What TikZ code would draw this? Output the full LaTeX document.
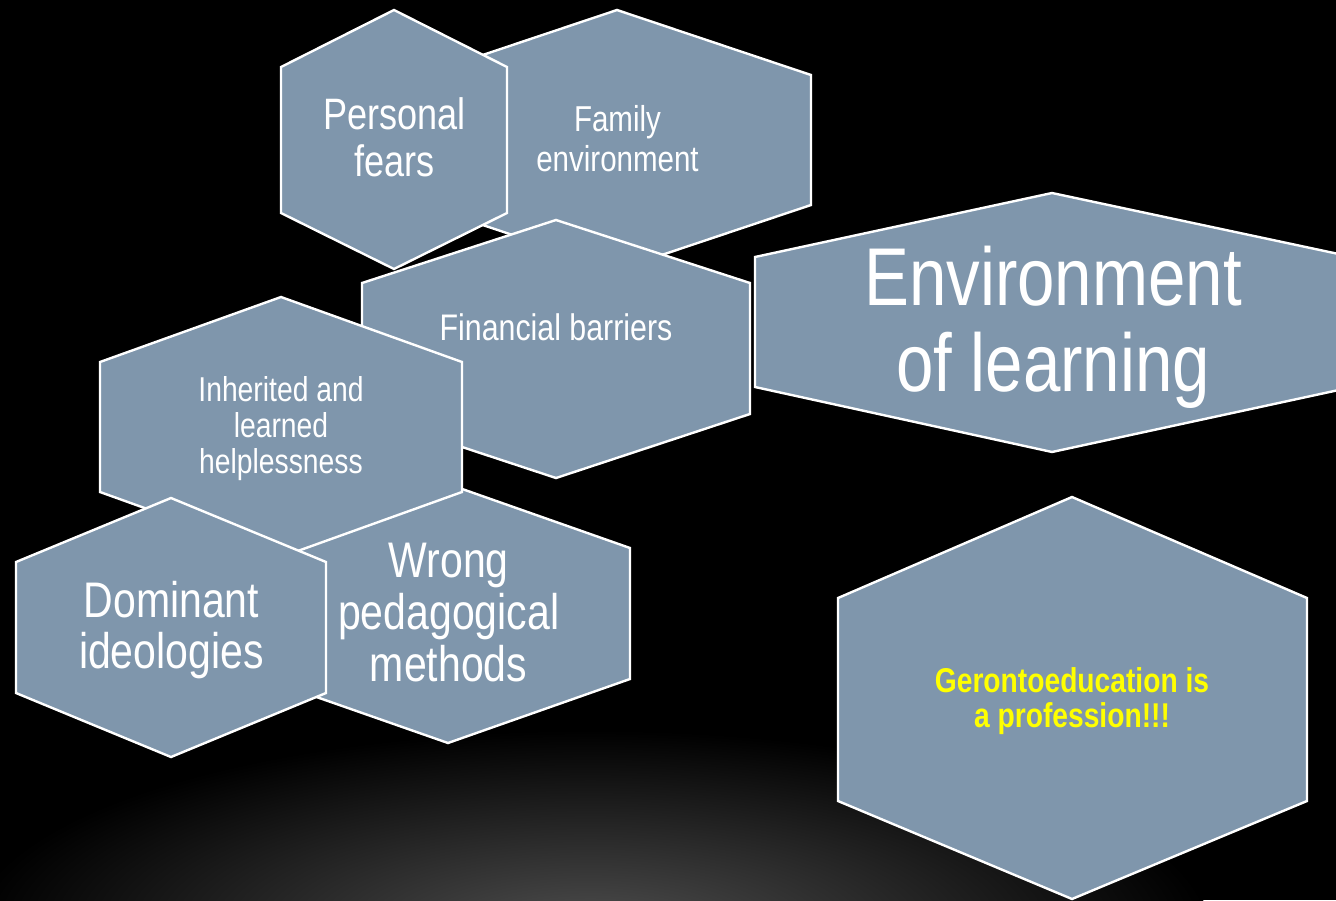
\documentclass[tikz,border=0pt]{standalone}
\usepackage{fontspec}
\setmainfont{Liberation Sans}[FakeStretch=0.82]
\definecolor{hexfill}{RGB}{127,150,172}
\definecolor{glow}{RGB}{78,78,78}
\definecolor{gyellow}{RGB}{255,255,0}
\begin{document}
\begin{tikzpicture}[x=1pt,y=-1pt,
  hexa/.style={fill=hexfill,draw=white,line width=2.4pt,line join=miter},
  lbl/.style={text=white,align=center,anchor=base,inner sep=0pt}]
\fill[black] (0,0) rectangle (1336,900);
\begin{scope}
\clip (0,0) rectangle (1336,900);
\shade[inner color=glow,outer color=black] (590,930) ellipse [x radius=620pt, y radius=200pt];
\end{scope}
\useasboundingbox (0,0) rectangle (1336,900);
% Family environment
\filldraw[hexa] (617,10) -- (811,75) -- (811,205) -- (617,270) -- (423,205) -- (423,75) -- cycle;
\node[lbl,font=\fontsize{36}{40}\selectfont] (fam) at (617.5,171) {Family\\environment};
% Personal fears
\filldraw[hexa] (394,10) -- (507,67) -- (507,213) -- (394,269) -- (281,213) -- (281,67) -- cycle;
\node[lbl,font=\fontsize{44}{47}\selectfont] (pf) at (394.5,176) {Personal\\fears};
% Financial barriers
\filldraw[hexa] (556,220) -- (750,283) -- (750,414) -- (556,478) -- (362,414) -- (362,283) -- cycle;
\node[lbl,font=\fontsize{37}{40}\selectfont] (fin) at (556,340) {Financial barriers};
% Wrong pedagogical methods
\filldraw[hexa] (448,484) -- (630,548) -- (630,679) -- (448,743) -- (265,679) -- (265,548) -- cycle;
\node[lbl,font=\fontsize{50}{52}\selectfont] (wpm) at (448.6,681) {Wrong\\pedagogical\\methods};
% Inherited and learned helplessness
\filldraw[hexa] (281,297) -- (462,362) -- (462,492) -- (281,557) -- (100,492) -- (100,362) -- cycle;
\node[lbl,font=\fontsize{34.5}{36}\selectfont] (ilh) at (281,473) {Inherited and\\learned\\helplessness};
% Dominant ideologies
\filldraw[hexa] (171,498) -- (326,562) -- (326,693) -- (171,757) -- (16,693) -- (16,562) -- cycle;
\node[lbl,font=\fontsize{50}{51}\selectfont] (dom) at (171.4,668) {Dominant\\ideologies};
% Environment of learning
\filldraw[hexa] (1052,193) -- (1348,256) -- (1348,388) -- (1052,452) -- (755,387) -- (755,257) -- cycle;
\node[lbl,font=\fontsize{82}{86}\selectfont] (env) at (1053,391) {Environment\\of learning};
% Gerontoeducation
\filldraw[hexa] (1072,497) -- (1307,598) -- (1307,801) -- (1072,899) -- (838,801) -- (838,598) -- cycle;
\node[lbl,text=gyellow,font=\bfseries\fontsize{34.4}{34.7}\selectfont] (ger) at (1072,727.5) {Gerontoeducation is\\a profession!!!};
\end{tikzpicture}
\end{document}
